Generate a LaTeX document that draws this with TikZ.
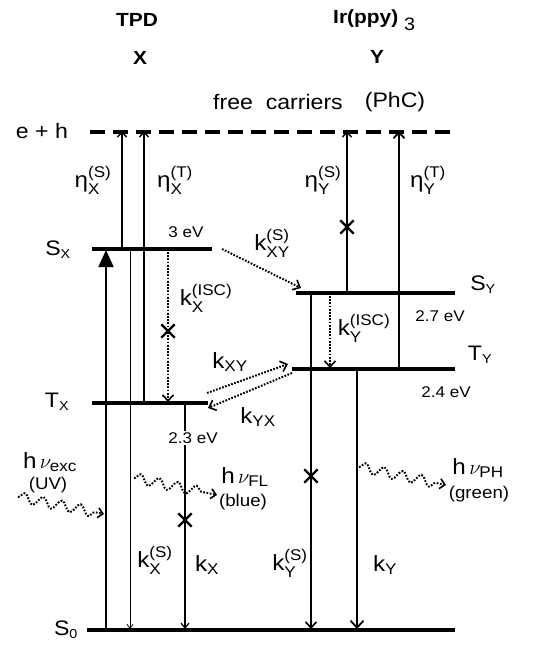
\documentclass[tikz,border=0pt]{standalone}
\usepackage{amsmath}
\usepackage{fontspec}
\setmainfont[FakeStretch=1.1]{Liberation Sans}
\DeclareMathSizes{22}{22}{15.5}{12}
\DeclareMathSizes{21}{21}{13}{10}
\usetikzlibrary{arrows.meta,decorations.pathmorphing,shapes.misc}
\begin{document}
\begin{tikzpicture}[x=1pt,y=-1pt,
  lvl/.style={line width=3.4pt},
  upar/.style={line width=1.6pt,-{Straight Barb[length=5pt,width=9pt,line width=1.4pt]}},
  dnar/.style={line width=1.4pt,-{Straight Barb[length=6pt,width=11pt,line width=1.6pt]}},
  thinar/.style={line width=0.8pt,-{Straight Barb[length=4pt,width=6pt,line width=0.8pt]}},
  dotar/.style={line width=2pt,dash pattern=on 1.7pt off 1.5pt,-{Straight Barb[length=6pt,width=11pt,line width=1.6pt]}},
  wave/.style={line width=2pt,dash pattern=on 1.7pt off 1.6pt,decorate,
     decoration={snake,amplitude=5pt,segment length=19pt,post length=7pt},
     -{Straight Barb[length=5pt,width=10pt,line width=1.6pt]}},
  lbl/.style={font=\fontsize{22}{26}\selectfont,inner sep=0pt},
  lvlbl/.style={font=\fontsize{21}{25}\selectfont,inner sep=0pt},
  sml/.style={font=\fontsize{15.5}{18}\selectfont,inner sep=0pt},
  phl/.style={font=\fontsize{17}{20}\selectfont,inner sep=0pt},
  ttl/.style={font=\fontsize{19}{23}\selectfont\bfseries,inner sep=0pt},
  xm/.style={cross out,draw,line width=2.4pt,minimum size=11pt,inner sep=0pt}
]
\useasboundingbox (0,0) rectangle (545,645);
% level coordinates
\coordinate (eh1) at (90,132);  \coordinate (eh2) at (456,132);
\coordinate (sx1) at (92,249);  \coordinate (sx2) at (212,249);
\coordinate (tx1) at (92,403);  \coordinate (tx2) at (208,403);
\coordinate (sy1) at (296,293); \coordinate (sy2) at (455,293);
\coordinate (ty1) at (292,369); \coordinate (ty2) at (455,369);
\coordinate (s01) at (87,630);  \coordinate (s02) at (455,630);
% levels
\draw[line width=4pt,dash pattern=on 15pt off 8pt] (eh1) -- (eh2);
\draw[lvl] (sx1) -- (sx2);
\draw[lvl] (tx1) -- (tx2);
\draw[lvl] (sy1) -- (sy2);
\draw[lvl] (ty1) -- (ty2);
\draw[lvl] (s01) -- (s02);
% endpoints of transitions
\coordinate (a1) at (106,630); \coordinate (a2) at (106,250);
\coordinate (b1) at (122,249); \coordinate (b2) at (122,131);
\coordinate (c1) at (130,249); \coordinate (c2) at (130,629);
\coordinate (d1) at (144,403); \coordinate (d2) at (144,131);
\coordinate (e1) at (168,252); \coordinate (e2) at (168,402);
\coordinate (f1) at (185,403); \coordinate (f2) at (185,629);
\coordinate (g1) at (347,293); \coordinate (g2) at (347,131);
\coordinate (h1) at (399,369); \coordinate (h2) at (399,131);
\coordinate (i1) at (330,296); \coordinate (i2) at (330,368);
\coordinate (j1) at (311,293); \coordinate (j2) at (311,629);
\coordinate (k1) at (357,369); \coordinate (k2) at (357,629);
% vertical transitions
\draw[line width=1.8pt,-{Triangle[length=17pt,width=15pt]}] (a1) -- (a2);
\draw[upar] (b1) -- (b2);
\draw[thinar] (c1) -- (c2);
\draw[upar] (d1) -- (d2);
\draw[dotar] (e1) -- (e2);
\draw[line width=1.2pt,-{Straight Barb[length=5pt,width=8pt,line width=1.2pt]}] (f1) -- (f2);
\draw[upar] (g1) -- (g2);
\draw[line width=2pt,-{Straight Barb[length=6pt,width=11pt,line width=1.8pt]}] (h1) -- (h2);
\draw[dotar] (i1) -- (i2);
\draw[dnar] (j1) -- (j2);
\draw[line width=1.6pt,-{Straight Barb[length=7pt,width=13pt,line width=1.8pt]}] (k1) -- (k2);
% transfer arrows
\coordinate (m1) at (222,249); \coordinate (m2) at (301,288);
\coordinate (n1) at (207,393); \coordinate (n2) at (288,364);
\coordinate (o1) at (292,373); \coordinate (o2) at (208,408);
\draw[dotar] (m1) -- (m2);
\draw[dotar] (n1) -- (n2);
\draw[dotar] (o1) -- (o2);
% crosses
\node[xm] (x1) at (168,331) {};
\node[xm] (x2) at (185,520) {};
\node[xm] (x3) at (347,227) {};
\node[xm] (x4) at (311,476) {};
% waves
\coordinate (w1) at (18,497);  \coordinate (w2) at (104,514);
\coordinate (w3) at (134,478); \coordinate (w4) at (217,495);
\coordinate (w5) at (359,467); \coordinate (w6) at (446,485);
\draw[wave] (w1) -- (w2);
\draw[wave] (w3) -- (w4);
\draw[wave] (w5) -- (w6);
% titles
\node[ttl] (tpd) at (137,20) {TPD};
\node[ttl] (tx) at (140,58) {X};
\node[ttl,anchor=west] (ir) at (333,20) {Ir(ppy)\raisebox{-7pt}{\mdseries\fontsize{18}{20}\selectfont\,\,3}};
\node[ttl] (ty) at (377,57) {Y};
\node[lvlbl] (fc) at (278,102) {free\ \ carriers};
\node[lvlbl] (phc) at (395,102) {(PhC)};
\node[lvlbl] (ehl) at (42,131) {e + h};
% eta labels
\node[lbl] (etaxs) at (93,180) {$\text{η}^{\text{(S)}}_{\text{X}}$};
\node[lbl] (etaxt) at (175,180) {$\text{η}^{\text{(T)}}_{\text{X}}$};
\node[lbl] (etays) at (323,180) {$\text{η}^{\text{(S)}}_{\text{Y}}$};
\node[lbl] (etayt) at (428,180) {$\text{η}^{\text{(T)}}_{\text{Y}}$};
% level labels
\node[lvlbl] (lsx) at (58,250) {S$_{\text{X}}$};
\node[lvlbl] (ltx) at (57,402) {T$_{\text{X}}$};
\node[lvlbl] (lsy) at (483,285) {S$_{\text{Y}}$};
\node[lvlbl] (lty) at (480,355) {T$_{\text{Y}}$};
\node[lvlbl] (ls0) at (66,630) {S$_{\text{0}}$};
\node[sml] (e3) at (186,232) {3 eV};
\node[sml] (e27) at (440,316) {2.7 eV};
\node[sml] (e24) at (446,392) {2.4 eV};
\node[sml,fill=white,inner sep=2pt] (e23) at (193,438) {2.3 eV};
% rate labels
\node[lbl] (kxys) at (272,243) {k$^{\text{(S)}}_{\text{XY}}$};
\node[lbl] (kxisc) at (206,298) {k$^{\text{(ISC)}}_{\text{X}}$};
\node[lbl] (kyisc) at (364,328) {k$^{\text{(ISC)}}_{\text{Y}}$};
\node[lbl] (kxy) at (230,362) {k$_{\text{XY}}$};
\node[lbl] (kyx) at (258,417) {k$_{\text{YX}}$};
\node[lbl] (kxs) at (155,560) {k$^{\text{(S)}}_{\text{X}}$};
\node[lbl] (kx) at (207,565) {k$_{\text{X}}$};
\node[lbl] (kys) at (290,563) {k$^{\text{(S)}}_{\text{Y}}$};
\node[lbl] (ky) at (385,565) {k$_{\text{Y}}$};
% photon labels
\node[lbl] (hexc) at (50,462) {h$\,\nu_{\text{exc}}$};
\node[phl] (uv) at (48,485) {(UV)};
\node[lbl] (hfl) at (245,477) {h$\,\nu_{\text{FL}}$};
\node[phl] (blue) at (243,502) {(blue)};
\node[lbl] (hph) at (478,468) {h$\,\nu_{\text{PH}}$};
\node[phl] (green) at (479,494) {(green)};
\end{tikzpicture}
\end{document}
